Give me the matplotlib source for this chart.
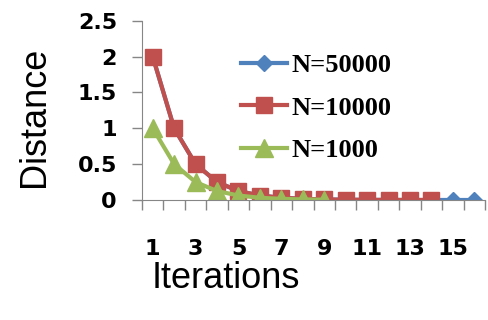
import matplotlib
matplotlib.use("Agg")
import matplotlib.pyplot as plt
import numpy as np

# iterations on the x axis (categories)
iterations = list(range(1, 17))
tick_labels = ["1", "3", "5", "7", "9", "11", "13", "15"]

# distance per iteration, one list per sample size
n50000 = [2, 1, 0.5, 0.25, 0.125, 0.0625, 0.031, 0.016, 0.008, 0.004, 0.002, 0.001, 0.0005, 0.0003, 0.0001, 0.0001]
n10000 = [2, 1, 0.5, 0.25, 0.125, 0.0625, 0.031, 0.016, 0.008, 0.004, 0.002, 0.001, 0.0005, 0.0003]
n1000 = [1, 0.5, 0.25, 0.125, 0.0625, 0.031, 0.016, 0.008, 0.004]

fig = plt.figure(figsize=(4.89, 3.2), dpi=100)
ax = fig.add_axes([142/489, 120/320, 343/489, 179.3/320])

ax.plot(iterations[:len(n50000)], n50000, color="#4F81BD", lw=3,
        marker="D", ms=8, label="N=50000")
ax.plot(iterations[:len(n10000)], n10000, color="#C0504D", lw=3,
        marker="s", ms=12, label="N=10000")
ax.plot(iterations[:len(n1000)], n1000, color="#9BBB59", lw=3,
        marker="^", ms=13, label="N=1000")

ax.set_xlim(0.5, 16.5)
ax.set_ylim(0, 2.5)
ax.set_yticks(np.arange(0, 2.51, 0.5))
ax.set_yticklabels(["0", "0.5", "1", "1.5", "2", "2.5"],
                   fontsize=16, fontweight="bold", family="DejaVu Sans")

# category boundaries get tick marks, odd categories get labels
ax.set_xticks(np.arange(0.5, 16.6, 1))
ax.set_xticklabels([])
ax.set_xticks(range(1, 17, 2), minor=True)
ax.set_xticklabels(tick_labels, minor=True, fontsize=16, fontweight="bold",
                   family="DejaVu Sans")
ax.tick_params(axis="x", which="minor", length=0, pad=28)
ax.tick_params(axis="x", which="major", length=7, color="#868686", width=1)
ax.tick_params(axis="y", length=7, color="#868686", width=1, pad=11)

for s in ["top", "right"]:
    ax.spines[s].set_visible(False)
for s in ["left", "bottom"]:
    ax.spines[s].set_color("#868686")

fig.text(35/489, 1 - 117/320, "Distance", rotation=90, ha="center", va="center",
         fontsize=26, family="Liberation Sans")
fig.text(226/489, 1 - 288/320, "Iterations", ha="center", va="baseline",
         fontsize=26, family="Liberation Sans")

ax.legend(loc="upper left", bbox_to_anchor=(0.258, 0.875), frameon=False,
          prop={"family": "Liberation Serif", "weight": "bold", "size": 19},
          handlelength=1.75, handletextpad=0.15, labelspacing=0.72, borderaxespad=0)

fig.savefig("out.png", dpi=100)
